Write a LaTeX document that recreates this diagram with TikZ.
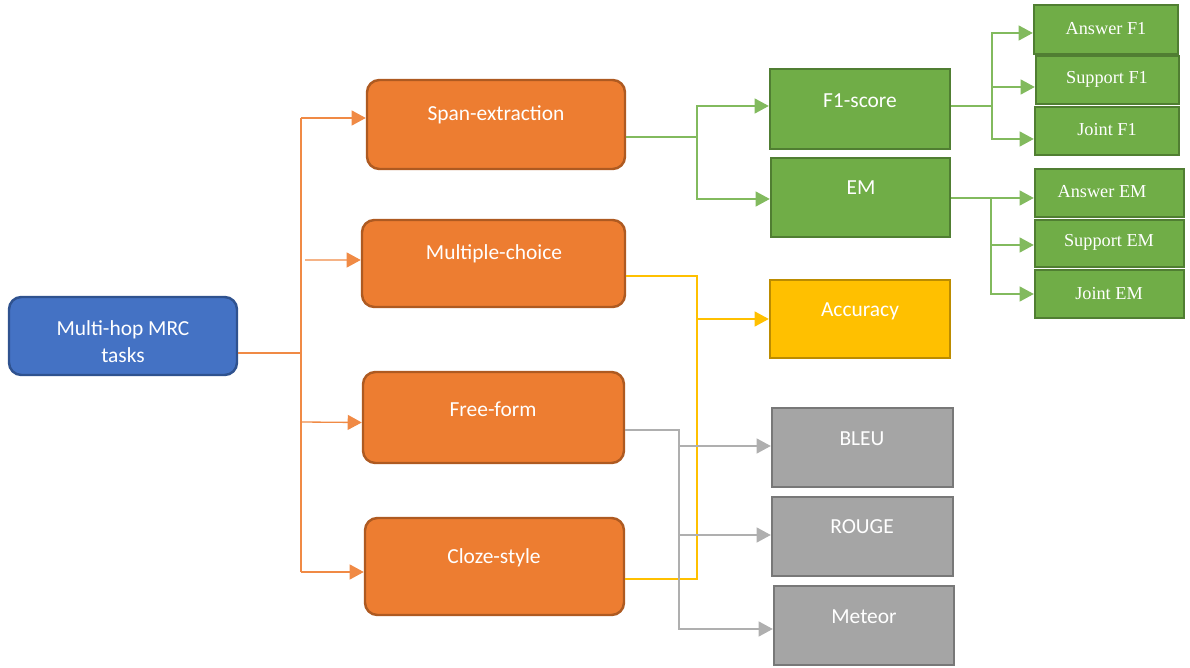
\documentclass[tikz,border=0pt]{standalone}
\usepackage{fontspec}
\setmainfont{Carlito}
\newfontfamily\tnr{Liberation Serif}
\usetikzlibrary{arrows.meta,fit,calc}
\definecolor{oFill}{HTML}{ED7D31}
\definecolor{oDraw}{HTML}{AE5A21}
\definecolor{oLine}{HTML}{F08A45}
\definecolor{bFill}{HTML}{4472C4}
\definecolor{bDraw}{HTML}{2F528F}
\definecolor{gFill}{HTML}{70AD47}
\definecolor{gDraw}{HTML}{507E32}
\definecolor{gLine}{HTML}{82BA5E}
\definecolor{yFill}{HTML}{FFC000}
\definecolor{yDraw}{HTML}{BC8C00}
\definecolor{sFill}{HTML}{A5A5A5}
\definecolor{sDraw}{HTML}{787878}
\definecolor{sLine}{HTML}{AFAFAF}
\begin{document}
\begin{tikzpicture}[x=0.02cm,y=-0.02cm,
  box/.style={draw, line width=1.4pt, inner sep=0pt},
  rbox/.style={box, rounded corners=7pt},
  orangebox/.style={rbox, fill=oFill, draw=oDraw},
  bluebox/.style={rbox, fill=bFill, draw=bDraw},
  greenbox/.style={box, fill=gFill, draw=gDraw},
  yellowbox/.style={box, fill=yFill, draw=yDraw},
  greybox/.style={box, fill=sFill, draw=sDraw},
  txt/.style={text=white, font=\fontsize{12.2}{15.4}\selectfont, align=center, inner sep=0pt, yshift=-1.2pt},
  stxt/.style={text=white, font=\tnr\fontsize{10.4}{12}\selectfont, inner sep=0pt, yshift=-0.6pt},
  tip/.style={-{Triangle[length=8pt,width=8.5pt]}},
  oline/.style={draw=oLine, line width=0.75pt},
  gline/.style={draw=gLine, line width=0.75pt},
  yline/.style={draw=yFill, line width=0.75pt},
  sline/.style={draw=sLine, line width=0.75pt},
]
\useasboundingbox (0,0) rectangle (1190,668);

% root
\node[bluebox, fit={(9,297) (237,375)}] (root) {};
\node[txt] (roott) at (123,340) {Multi-hop MRC\\tasks};

% orange task boxes
\node[orangebox, fit={(367,80) (625,169)}] (span) {};
\node[txt] (spant) at (496,113) {Span-extraction};
\node[orangebox, fit={(362,220) (625,307)}] (mc) {};
\node[txt] (mct) at (494,252) {Multiple-choice};
\node[orangebox, fit={(363,372) (624,463)}] (ff) {};
\node[txt] (fft) at (493,407) {Free-form};
\node[orangebox, fit={(365,518) (624,615)}] (cloze) {};
\node[txt] (clozet) at (494,556) {Cloze-style};

% metric boxes
\node[greenbox, fit={(770,69) (950,149)}] (f1) {};
\node[txt] (f1t) at (860,99) {F1-score};
\node[greenbox, fit={(771,158) (950,237)}] (em) {};
\node[txt] (emt) at (861,186) {EM};
\node[yellowbox, fit={(770,280) (950,358)}] (acc) {};
\node[txt] (acct) at (860,309) {Accuracy};
\node[greybox, fit={(772,408) (953,487)}] (bleu) {};
\node[txt] (bleut) at (862,437) {BLEU};
\node[greybox, fit={(772,497) (953,576)}] (rouge) {};
\node[txt] (rouget) at (862,525) {ROUGE};
\node[greybox, fit={(774,586) (954,665)}] (meteor) {};
\node[txt] (meteort) at (864,615) {Meteor};

% sub-metrics
\node[greenbox, fit={(1034,5) (1178,54)}] (af1) {};
\node[stxt] (af1t) at (1106,28) {Answer F1};
\node[greenbox, fit={(1036,56) (1179,104)}] (sf1) {};
\node[stxt] (sf1t) at (1107,78) {Support F1};
\node[greenbox, fit={(1035,107) (1179,155)}] (jf1) {};
\node[stxt] (jf1t) at (1107,128) {Joint F1};
\node[greenbox, fit={(1035,169) (1184,217)}] (aem) {};
\node[stxt] (aemt) at (1102,191) {Answer EM};
\node[greenbox, fit={(1035,220) (1184,267)}] (sem) {};
\node[stxt] (semt) at (1109,241) {Support EM};
\node[greenbox, fit={(1035,270) (1184,318)}] (jem) {};
\node[stxt] (jemt) at (1109,292) {Joint EM};

% orange connectors
\coordinate (obus) at (301,353);
\coordinate (otop) at (301,118);
\coordinate (obot) at (301,572);
\draw[oline] (root.east |- obus) -- (obus);
\draw[oline] (otop) -- (obot);
\draw[oline, tip] (otop) -- (span.west |- otop);
\draw[oline, tip] (305,260) -- ($(mc.west)+(0,-3.5)$);
\draw[oline, tip] (obus |- 0,422) -- ($(ff.west)+(0,5)$);
\draw[oline, tip] (obot) -- (cloze.west |- obot);

% green connectors
\coordinate (gbus) at (697,137);
\draw[gline] ($(span.east)+(0,12.5)$) -- (gbus);
\draw[gline, tip] (gbus) |- ($(f1.west)+(0,-3)$);
\draw[gline, tip] (gbus) |- ($(em.west)+(0,1.5)$);

\coordinate (fbus) at (992,106);
\draw[gline] ($(f1.east)+(0,-3)$) -- (fbus);
\draw[gline, tip] (fbus) |- ($(af1.west)+(0,3.5)$);
\draw[gline, tip] (fbus) |- ($(sf1.west)+(0,7)$);
\draw[gline, tip] (fbus) |- ($(jf1.west)+(0,8)$);

\coordinate (ebus) at (991,198);
\draw[gline, tip] ($(em.east)+(0,0.5)$) -- ($(aem.west)+(0,5)$);
\draw[gline, tip] (ebus) |- ($(sem.west)+(0,1.5)$);
\draw[gline, tip] (ebus) |- (jem.west);

% yellow connectors
\coordinate (ybus) at (697,276);
\draw[yline] ($(mc.east)+(0,12.5)$) -- (ybus) |- ($(cloze.east)+(0,12.5)$);
\draw[yline, tip] (ybus |- acc.west) -- (acc.west);

% grey connectors
\coordinate (sbus) at (679,430);
\draw[sline, tip] ($(ff.east)+(0,12.5)$) -- (sbus) |- ($(meteor.west)+(0,3.5)$);
\draw[sline, tip] (sbus) |- ($(bleu.west)+(0,-1.5)$);
\draw[sline, tip] (sbus) |- ($(rouge.west)+(0,-1.5)$);
\end{tikzpicture}
\end{document}
